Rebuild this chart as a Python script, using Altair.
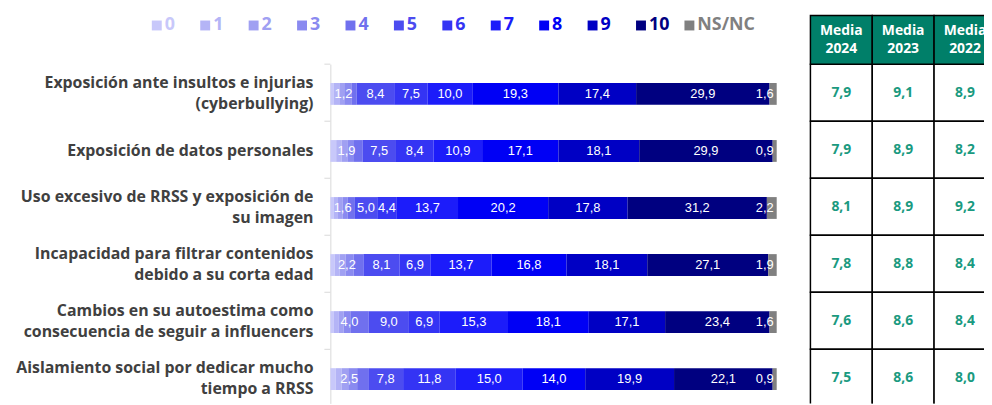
import altair as alt
import pandas as pd

categories = [
    "Exposición ante insultos e injurias\n(cyberbullying)",
    "Exposición de datos personales",
    "Uso excesivo de RRSS y exposición de\nsu imagen",
    "Incapacidad para filtrar contenidos\ndebido a su corta edad",
    "Cambios en su autoestima como\nconsecuencia de seguir a influencers",
    "Aislamiento social por dedicar mucho\ntiempo a RRSS",
]
scores = ["0", "1", "2", "3", "4", "5", "6", "7", "8", "9", "10", "NS/NC"]
colors = ["#c8c8fa", "#b4b4f6", "#a0a0f2", "#8a8af0", "#7070ee", "#4c4cf0",
          "#3434f4", "#1c1cfa", "#0000f5", "#0000c4", "#000080", "#808080"]

row_cyberbullying = [0.8, 1.2, 1.1, 1.6, 1.2, 8.4, 7.5, 10.0, 19.3, 17.4, 29.9, 1.6]
row_datos = [1.3, 1.2, 1.3, 1.5, 1.9, 7.5, 8.4, 10.9, 17.1, 18.1, 29.9, 0.9]
row_uso = [0.8, 0.9, 1.0, 1.2, 1.6, 5.0, 4.4, 13.7, 20.2, 17.8, 31.2, 2.2]
row_incapacidad = [1.0, 1.1, 1.3, 1.8, 2.2, 8.1, 6.9, 13.7, 16.8, 18.1, 27.1, 1.9]
row_autoestima = [0.8, 1.0, 1.2, 1.6, 4.0, 9.0, 6.9, 15.3, 18.1, 17.1, 23.4, 1.6]
row_aislamiento = [1.2, 1.3, 1.5, 2.0, 2.5, 7.8, 11.8, 15.0, 14.0, 19.9, 22.1, 0.9]

table_cols = ["Media 2024", "Media 2023", "Media 2022"]
header_top = ["Media", "Media", "Media"]
header_year = ["2024", "2023", "2022"]
media_2024 = [7.9, 7.9, 8.1, 7.8, 7.6, 7.5]
media_2023 = [9.1, 8.9, 8.9, 8.8, 8.6, 8.6]
media_2022 = [8.9, 8.2, 9.2, 8.4, 8.4, 8.0]

rows = [row_cyberbullying, row_datos, row_uso, row_incapacidad, row_autoestima, row_aislamiento]
records = []
for ci, cat in enumerate(categories):
    for si, s in enumerate(scores):
        records.append({"cat": cat, "score": s, "idx": si, "value": rows[ci][si]})
df = pd.DataFrame(records)

trec = []
for col, vals in zip(table_cols, [media_2024, media_2023, media_2022]):
    for cat, v in zip(categories, vals):
        trec.append({"cat": cat, "col": col, "value": v})
tdf = pd.DataFrame(trec)
hdf = pd.DataFrame({"col": table_cols, "row": ["h"] * 3, "top": header_top, "year": header_year})
ldf = pd.DataFrame({"score": scores})
cdf = pd.DataFrame({
    "cat": categories,
    "line1": [c.split("\n")[0] for c in categories],
    "line2": [c.split("\n")[1] if "\n" in c else "" for c in categories],
    "nlines": [len(c.split("\n")) for c in categories],
})

color_scale = alt.Scale(domain=scores, range=colors)
COLOR = alt.Color("score:N", scale=color_scale, legend=None)

# ---- bars ----
bar_x_scale = alt.Scale(domain=[0, 100], range=[0, 450], nice=False, zero=True)
bar_y_scale = alt.Scale(type="band", domain=categories, range=[55, 397], paddingInner=0.6174,
                        paddingOuter=0.2826, align=0.585)
base = alt.Chart(df).transform_stack(
    stack="value", groupby=["cat"], as_=["x0", "x1"],
    sort=[alt.SortField("idx", order="ascending")]
).transform_calculate(
    lx="datum.idx == 4 ? datum.x1 / 2 : (datum.x0 + datum.x1) / 2",
    lab="replace(format(datum.value, '.1f'), '.', ',')",
)
bars = base.mark_bar().encode(
    x=alt.X("x0:Q", scale=bar_x_scale, axis=None),
    x2="x1:Q",
    y=alt.Y("cat:N", scale=bar_y_scale, axis=alt.Axis(
        title=None, labels=False, ticks=False, tickSize=0,
        domainColor="#d9d9d9", minExtent=325, maxExtent=325)),
    color=COLOR,
)
bar_labels = base.transform_filter("datum.idx >= 4 && datum.idx <= 10").mark_text(
    color="white", fontSize=13, font="Liberation Sans").encode(
    x=alt.X("lx:Q", scale=bar_x_scale, axis=None),
    y=alt.Y("cat:N", scale=bar_y_scale, axis=None),
    text="lab:N")
ns_labels = base.transform_filter("datum.idx == 11").mark_text(
    color="white", fontSize=13, font="Liberation Sans", align="right", dx=-3).encode(
    x=alt.X("x1:Q", scale=bar_x_scale, axis=None),
    y=alt.Y("cat:N", scale=bar_y_scale, axis=None),
    text="lab:N")

# category labels (two-line labels centred on the bar)
cat_style = dict(align="right", baseline="middle", fontSize=16, fontWeight="bold",
                 font="Open Sans", color="#404040")
cy = alt.Y("cat:N", scale=bar_y_scale, axis=None)
cat_l1 = alt.Chart(cdf).transform_filter("datum.nlines == 2").mark_text(
    dy=-11, **cat_style).encode(x=alt.value(-17), y=cy, text="line1:N")
cat_l2 = alt.Chart(cdf).transform_filter("datum.nlines == 2").mark_text(
    dy=10, **cat_style).encode(x=alt.value(-17), y=cy, text="line2:N")
cat_single = alt.Chart(cdf).transform_filter("datum.nlines == 1").mark_text(
    **cat_style).encode(x=alt.value(-17), y=cy, text="line1:N")

# small gray ticks between categories on the axis
tick_y = alt.Y("cat:N", scale=alt.Scale(type="band", domain=categories, range=[55, 400],
                                        paddingInner=0, paddingOuter=0),
               axis=None, bandPosition=0)
axis_ticks = alt.Chart(cdf).mark_rule(color="#d9d9d9", strokeWidth=1).encode(
    x=alt.value(-6), x2=alt.value(0), y=tick_y)

# ---- legend (top) ----
lx = alt.X("score:N", scale=alt.Scale(type="point", domain=scores, range=[-175, 362],
                                      padding=0), axis=None)
leg_sq = alt.Chart(ldf).mark_square(size=100, opacity=1).encode(
    x=lx, y=alt.value(16), color=COLOR)
leg_tx = alt.Chart(ldf).mark_text(align="left", baseline="middle", dx=8, fontSize=18,
                                  fontWeight="bold", font="Open Sans").encode(
    x=lx, y=alt.value(16), text="score:N", color=COLOR)

# ---- table ----
hx = alt.X("col:N", scale=alt.Scale(type="band", domain=table_cols, range=[484, 671],
                                    paddingInner=0, paddingOuter=0), axis=None)
hy = alt.Y("row:N", scale=alt.Scale(type="band", domain=["h"], range=[6, 55],
                                    paddingInner=0, paddingOuter=0), axis=None)
h_rect = alt.Chart(hdf).mark_rect(fill="#007f69", stroke="black", strokeWidth=1.5,
                                  clip=True).encode(x=hx, y=hy)
h_text1 = alt.Chart(hdf).mark_text(color="white", fontSize=14, fontWeight="bold",
                                   font="Open Sans", dy=-9, clip=True).encode(
    x=hx, y=hy, text="top:N")
h_text2 = alt.Chart(hdf).mark_text(color="white", fontSize=14, fontWeight="bold",
                                   font="Open Sans", dy=9, clip=True).encode(
    x=hx, y=hy, text="year:N")

by = alt.Y("cat:N", scale=alt.Scale(type="band", domain=categories, range=[55, 400],
                                    paddingInner=0, paddingOuter=0), axis=None)
b_rect = alt.Chart(tdf).mark_rect(fill="white", stroke="black", strokeWidth=1.5,
                                  clip=True).encode(x=hx, y=by)
b_text = alt.Chart(tdf).transform_calculate(
    lab="replace(format(datum.value, '.1f'), '.', ',')"
).mark_text(color="#1a9a80", fontSize=14, fontWeight="bold", font="Open Sans",
            clip=True).encode(x=hx, y=by, text="lab:N")

chart = alt.layer(
    bars, bar_labels, ns_labels, cat_l1, cat_l2, cat_single, axis_ticks, leg_sq, leg_tx,
    b_rect, b_text, h_rect, h_text1, h_text2
).resolve_scale(
    x="independent", y="independent"
).properties(
    width=659, height=397, padding=0
).configure_view(stroke=None)

chart.save("out.html", embed_options={"renderer": "svg", "actions": False})
